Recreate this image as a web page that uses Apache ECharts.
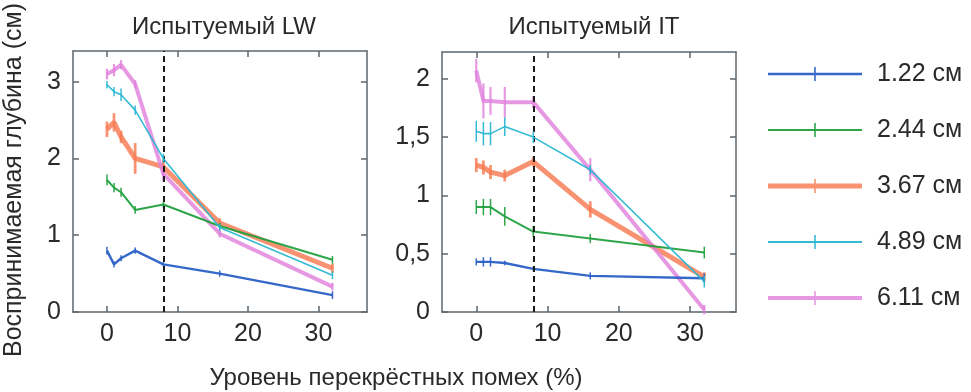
<!DOCTYPE html>
<html>
<head>
<meta charset="utf-8">
<script src="https://cdn.jsdelivr.net/npm/echarts@6/dist/echarts.min.js"></script>
<style>
  html, body { margin: 0; padding: 0; background: #ffffff; }
  #chart { width: 971px; height: 392px; }
</style>
</head>
<body>
<div id="chart"></div>
<script>
// Crosstalk level (%) at which perceived depth was measured
const crosstalk = [0, 1, 2, 4, 8, 16, 32];

// Disparity conditions (legend)
const depthNames = ['1.22 см', '2.44 см', '3.67 см', '4.89 см', '6.11 см'];

// Subject LW: perceived depth (cm) and error
const lw122 = [0.80, 0.62, 0.70, 0.80, 0.62, 0.50, 0.22];
const lw244 = [1.72, 1.62, 1.56, 1.33, 1.40, 1.12, 0.68];
const lw367 = [2.38, 2.47, 2.28, 2.00, 1.89, 1.16, 0.57];
const lw489 = [2.96, 2.87, 2.83, 2.63, 2.00, 1.10, 0.48];
const lw611 = [3.10, 3.15, 3.22, 2.97, 1.80, 1.02, 0.33];
const lwErr122 = [0.05, 0.04, 0.04, 0.04, 0.03, 0.04, 0.05];
const lwErr244 = [0.07, 0.06, 0.06, 0.05, 0.04, 0.04, 0.05];
const lwErr367 = [0.10, 0.12, 0.08, 0.20, 0.10, 0.06, 0.06];
const lwErr489 = [0.05, 0.06, 0.08, 0.06, 0.06, 0.04, 0.05];
const lwErr611 = [0.07, 0.08, 0.06, 0.05, 0.10, 0.05, 0.05];

// Subject IT: perceived depth (cm) and error
const it122 = [0.43, 0.43, 0.43, 0.42, 0.37, 0.31, 0.29];
const it244 = [0.90, 0.90, 0.90, 0.82, 0.69, 0.63, 0.51];
const it367 = [1.26, 1.24, 1.20, 1.17, 1.29, 0.88, 0.30];
const it489 = [1.55, 1.53, 1.53, 1.59, 1.50, 1.22, 0.26];
const it611 = [2.07, 1.81, 1.81, 1.80, 1.80, 1.22, 0.02];
const itErr122 = [0.03, 0.04, 0.04, 0.02, 0.02, 0.03, 0.04];
const itErr244 = [0.06, 0.07, 0.07, 0.08, 0.05, 0.04, 0.05];
const itErr367 = [0.06, 0.06, 0.06, 0.05, 0.04, 0.07, 0.04];
const itErr489 = [0.09, 0.10, 0.10, 0.08, 0.05, 0.04, 0.05];
const itErr611 = [0.10, 0.15, 0.12, 0.13, 0.05, 0.10, 0.04];

// Threshold crosstalk level (dashed line)
const thresholdLevel = 8;

// Tick values and labels
const xTicks = [0, 10, 20, 30];
const lwYTicks = [0, 1, 2, 3];
const itYTicks = [0, 0.5, 1, 1.5, 2];
const itYTickLabels = ['0', '0,5', '1', '1,5', '2'];

const panelTitles = ['Испытуемый LW', 'Испытуемый IT'];
const xName = 'Уровень перекрёстных помех (%)';
const yName = 'Воспринимаемая глубина (см)';

// ---- styling ----
const colors = ['#2b60c6', '#22a03f', '#f87a52', '#2ab6d2', '#e07fdb'];
const lineOpacity = [0.95, 0.95, 0.82, 0.95, 0.8];
const lineWidths = [2.4, 2, 5, 1.6, 4];
const lineZ = [4, 4, 2, 5, 3];
const FONT = '"Liberation Sans", Arial, sans-serif';
const frameColor = '#5d676e';
const textColor = '#2a2a2a';

const panels = [
  { values: [lw122, lw244, lw367, lw489, lw611],
    errors: [lwErr122, lwErr244, lwErr367, lwErr489, lwErr611],
    grid: { left: 73, top: 51, width: 294, height: 261 },
    x: { min: -4.82, max: 36.9 },
    y: { min: 0, max: 3.40, ticks: lwYTicks, fmt: v => String(v) } },
  { values: [it122, it244, it367, it489, it611],
    errors: [itErr122, itErr244, itErr367, itErr489, itErr611],
    grid: { left: 442, top: 52, width: 294, height: 260 },
    x: { min: -4.81, max: 36.45 },
    y: { min: 0, max: 2.23, ticks: itYTicks,
         fmt: v => itYTickLabels[itYTicks.indexOf(v)] } }
];

const grids = [], xAxes = [], yAxes = [], series = [];

panels.forEach((p, pi) => {
  grids.push(Object.assign({ containLabel: false }, p.grid));
  const lineStyle = { color: frameColor, width: 1.5 };
  const tick = { show: true, inside: true, length: 6, lineStyle: { color: frameColor, width: 1.5 }, customValues: xTicks };
  // bottom + mirrored top x axis
  xAxes.push({
    type: 'value', gridIndex: pi, min: p.x.min, max: p.x.max, position: 'bottom',
    axisLine: { show: true, onZero: false, lineStyle },
    axisTick: tick,
    splitLine: { show: false },
    axisLabel: { customValues: xTicks, margin: 10, color: textColor, fontSize: 25, fontFamily: FONT }
  });
  xAxes.push({
    type: 'value', gridIndex: pi, min: p.x.min, max: p.x.max, position: 'top',
    axisLine: { show: true, onZero: false, lineStyle },
    axisTick: tick,
    splitLine: { show: false }, axisLabel: { show: false }
  });
  const ytick = { show: true, inside: true, length: 6, lineStyle: { color: frameColor, width: 1.5 }, customValues: p.y.ticks };
  yAxes.push({
    type: 'value', gridIndex: pi, min: p.y.min, max: p.y.max, position: 'left',
    axisLine: { show: true, onZero: false, lineStyle },
    axisTick: ytick,
    splitLine: { show: false },
    axisLabel: { customValues: p.y.ticks, formatter: p.y.fmt, margin: 12, color: textColor, fontSize: 25, fontFamily: FONT }
  });
  yAxes.push({
    type: 'value', gridIndex: pi, min: p.y.min, max: p.y.max, position: 'right',
    axisLine: { show: true, onZero: false, lineStyle },
    axisTick: ytick,
    splitLine: { show: false }, axisLabel: { show: false }
  });

  const xi = pi * 2, yi = pi * 2;
  p.values.forEach((vals, si) => {
    const pts = crosstalk.map((x, k) => [x, vals[k]]);
    series.push({
      type: 'line', name: depthNames[si], xAxisIndex: xi, yAxisIndex: yi,
      data: pts, showSymbol: false, symbol: 'none', silent: true, z: lineZ[si],
      lineStyle: { color: colors[si], width: lineWidths[si], opacity: lineOpacity[si] },
      itemStyle: { color: colors[si] }
    });
    series.push({
      type: 'custom', name: depthNames[si], xAxisIndex: xi, yAxisIndex: yi, silent: true, z: lineZ[si],
      data: crosstalk.map((x, k) => [x, vals[k], p.errors[si][k]]),
      encode: { x: 0, y: 1 },
      itemStyle: { color: colors[si] },
      renderItem: (params, api) => {
        const x = api.value(0), y = api.value(1), e = api.value(2);
        const lo = api.coord([x, y - e]);
        const hi = api.coord([x, y + e]);
        return {
          type: 'line',
          shape: { x1: lo[0], y1: lo[1], x2: hi[0], y2: hi[1] },
          style: { stroke: colors[si], opacity: lineOpacity[si], lineWidth: Math.max(1.5, lineWidths[si] * 0.55) }
        };
      }
    });
  });

  // dashed threshold line
  series.push({
    type: 'line', xAxisIndex: xi, yAxisIndex: yi, data: [], silent: true, z: 6,
    markLine: {
      silent: true, symbol: ['none', 'none'], label: { show: false },
      lineStyle: { color: '#1a1a1a', width: 2, type: [6, 4] },
      data: [{ xAxis: thresholdLevel }]
    }
  });
});

// legend icons: line with an error-bar tick
const legendIcon = w =>
  `path://M0 ${8 - w / 2}H94V${8 + w / 2}H0Z M46.2 1H47.8V15H46.2Z`;

const option = {
  backgroundColor: '#ffffff',
  animation: false,
  title: panelTitles.map((t, i) => ({
    text: t,
    left: [219, 589][i], top: 10, textAlign: 'center',
    textStyle: { fontSize: 24, fontWeight: 'normal', color: textColor, fontFamily: FONT }
  })),
  legend: {
    orient: 'vertical', left: 763, top: 56,
    itemWidth: 94, itemHeight: 16, itemGap: 30,
    selectedMode: false,
    data: depthNames.map((n, i) => ({
      name: n, icon: legendIcon(lineWidths[i] * 0.9 + 0.4),
      itemStyle: { color: colors[i], opacity: lineOpacity[i] }
    })),
    textStyle: { fontSize: 25, lineHeight: 26, color: textColor, fontFamily: FONT, padding: [0, 0, 0, 10] }
  },
  grid: grids,
  xAxis: xAxes,
  yAxis: yAxes,
  series,
  graphic: [
    { type: 'text', x: 396, y: 378, style: { text: xName, fontSize: 24, fontFamily: FONT, fill: textColor, textAlign: 'center', textVerticalAlign: 'middle' } },
    { type: 'text', x: 14, y: 180, rotation: Math.PI / 2, style: { text: yName, fontSize: 25, fontFamily: FONT, fill: textColor, textAlign: 'center', textVerticalAlign: 'middle' } }
  ]
};

const chart = echarts.init(document.getElementById('chart'), null, { renderer: 'canvas' });
chart.setOption(option);
</script>
</body>
</html>
